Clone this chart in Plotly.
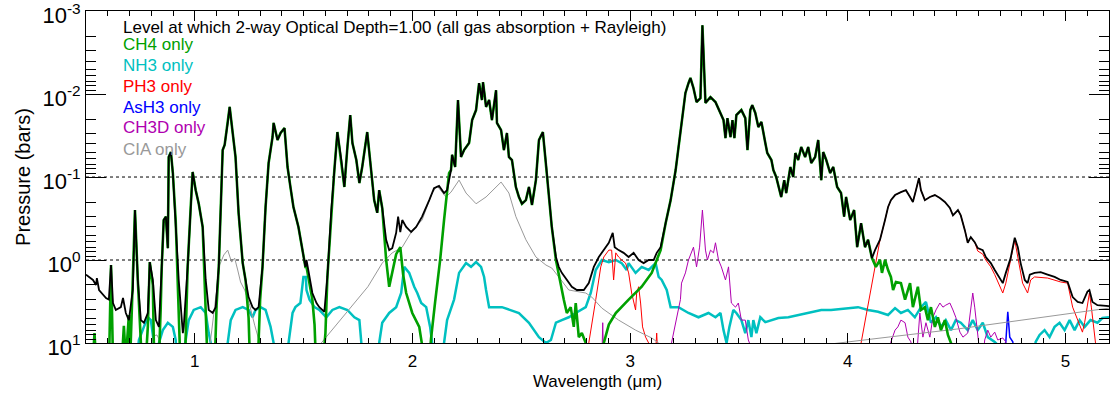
import plotly.graph_objects as go

# ---------------- data (wavelength in micron, pressure in bars) ----------------
wl_min, wl_max = 0.5, 5.2

total_wl = [0.500,0.532,0.546,0.550,0.560,0.592,0.605,0.615,0.624,0.637,0.660,0.670,0.683,0.697,0.715,0.725,0.738,0.752,0.766,0.784,
0.793,0.807,0.821,0.835,0.848,0.857,0.867,0.876,0.880,0.890,0.899,0.912,0.926,0.945,0.949,0.967,0.981,0.990,1.004,1.018,
1.036,1.050,1.064,1.082,1.096,1.110,1.128,1.137,1.151,1.160,1.174,1.187,1.201,1.220,1.233,1.247,1.265,1.279,1.293,1.311,
1.325,1.339,1.357,1.362,1.380,1.394,1.412,1.426,1.440,1.453,1.476,1.495,1.508,
1.513,1.527,1.540,1.559,1.572,1.595,1.609,1.627,1.641,1.655,1.673,1.687,1.701,1.714,1.724,1.742,1.756,1.769,1.792,1.811,
1.824,1.838,1.847,1.861,1.879,1.893,1.907,1.925,1.934,1.944,1.953,1.971,1.994,2.017,2.044,2.077,2.099,2.122,2.145,2.159,
2.177,2.182,2.196,2.209,2.223,2.237,2.260,2.274,2.292,2.306,2.319,2.324,2.338,
2.352,2.365,2.384,2.388,2.407,2.420,2.434,2.443,2.457,2.475,2.489,2.503,2.521,2.535,2.549,2.567,2.581,2.599,2.613,2.627,
2.640,2.659,2.672,2.686,2.709,2.732,2.755,2.787,2.810,2.833,2.856,2.879,2.902,2.920,2.929,2.947,2.970,2.993,3.016,3.039,
3.062,3.085,3.108,3.122,3.140,3.163,3.186,3.209,3.222,3.236,3.254,3.268,
3.277,3.291,3.305,3.323,3.332,3.346,3.369,3.392,3.415,3.429,3.438,3.447,3.461,3.470,3.479,3.488,3.511,3.529,3.539,3.552,
3.561,3.575,3.589,3.603,3.621,3.630,3.649,3.658,3.671,3.685,3.694,3.708,3.717,3.736,3.749,3.759,3.772,3.786,3.804,3.818,
3.832,3.850,3.864,3.878,3.887,3.901,3.919,3.933,3.951,3.969,3.983,3.992,4.011,4.029,4.043,4.061,4.079,4.093,4.111,4.125,
4.148,4.171,4.185,4.198,
4.217,4.244,4.267,4.286,4.299,4.313,4.327,4.336,4.354,4.377,4.400,4.423,4.446,4.469,4.483,4.506,4.519,4.538,4.551,4.565,
4.583,4.597,4.620,4.634,4.657,4.675,4.698,4.712,4.726,4.748,4.767,4.781,4.794,4.813,4.826,4.836,4.858,4.886,4.918,4.950,
4.978,5.010,5.033,5.056,5.078,5.101,5.110,5.124,5.147,5.200]
total_p = [1.5,1.74,2.0,1.65,2.3,2.87,3.0,1.15,3.3,4.0,3.7,2.87,4.35,5.3,2.3,0.25,1.74,5.3,5.7,4.35,
1.06,1.74,5.3,6.4,1.21,0.33,0.30,0.72,0.0574,0.050,0.0895,0.33,1.74,7.6,6.4,1.21,0.23,0.087,0.144,0.21,
0.40,1.74,4.0,4.35,3.7,1.21,0.0473,0.041,0.0223,0.0143,0.0295,0.0574,0.27,1.09,1.74,2.8,3.7,4.0,3.7,1.21,
0.23,0.0678,0.033,0.0223,0.0358,0.0295,0.0257,0.0758,0.136,0.23,0.40,0.82,1.21,
1.0,1.6,2.5,3.3,3.7,4.2,1.6,0.25,0.0824,0.0287,0.0624,0.132,0.0435,0.0179,0.0389,0.0624,0.118,0.0758,0.0287,0.0824,
0.19,0.27,0.144,0.236,0.57,0.76,0.72,0.47,0.30,0.46,0.33,0.40,0.46,0.40,0.30,0.19,0.136,0.128,0.156,0.144,
0.0824,0.054,0.0758,0.0118,0.0574,0.0473,0.0389,0.0206,0.0156,0.0074,0.0118,0.0072,0.0143,
0.0118,0.0206,0.0090,0.0223,0.0272,0.0473,0.0295,0.0574,0.0624,0.132,0.174,0.21,0.19,0.132,0.217,0.109,0.0358,0.0287,0.0678,0.156,
0.40,0.92,1.21,1.43,1.74,2.1,2.3,2.3,1.9,1.21,0.92,0.76,0.62,0.47,0.70,0.76,0.82,0.92,0.82,1.0,
1.09,1.0,1.0,0.82,0.70,0.36,0.19,0.0824,0.0435,0.0223,0.0097,0.0074,
0.0064,0.0085,0.0125,0.0112,0.00148,0.0128,0.0109,0.0125,0.0169,0.0206,0.0339,0.0195,0.033,0.0206,0.0339,0.0179,0.0156,0.0195,0.0473,0.0156,
0.0136,0.0169,0.025,0.0217,0.0389,0.0514,0.0624,0.0824,0.1,0.144,0.174,0.109,0.156,0.0758,0.1,0.0514,0.0624,0.0435,0.0574,0.0435,
0.0678,0.0574,0.0358,0.109,0.050,0.0624,0.0895,0.0758,0.132,0.156,0.30,0.174,0.33,0.25,0.70,0.36,0.70,0.57,0.95,0.76,
0.57,0.33,0.23,0.19,
0.165,0.152,0.144,0.174,0.20,0.144,0.103,0.144,0.19,0.174,0.165,0.179,0.20,0.236,0.29,0.25,0.29,0.44,0.62,0.53,
0.61,0.72,0.76,0.92,1.09,1.32,1.65,1.9,1.43,0.95,0.54,0.70,1.09,1.74,1.9,1.5,1.43,1.40,1.5,1.6,
1.74,1.84,2.8,3.2,3.3,2.4,2.3,3.2,3.5,3.6]

# CH4: follows the total except in these wavelength ranges, where its own values are read
ch4_own_ranges = [(0.50,0.72),(0.745,0.79),(0.80,0.845),(0.92,0.962),(1.045,1.105),(1.24,1.305),
                  (1.51,1.605),(1.865,2.17),(2.655,3.145),(4.105,5.21)]
ch4_own_wl = [0.500,0.532,0.539,0.546,0.606,0.615,0.624,0.665,0.674,0.683,0.697,0.703,0.712,
              0.750,0.756,0.775,0.784,
              0.807,0.813,0.835,0.843,
              0.926,0.933,0.955,
              1.050,1.058,1.092,1.100,
              1.247,1.253,1.290,1.300,
              1.513,1.527,1.540,1.550,1.556,1.590,1.600,
              1.870,1.879,1.893,1.907,1.925,1.944,1.957,1.971,1.999,2.031,2.044,2.055,2.078,2.085,2.104,2.127,2.145,2.159,2.168,
              2.659,2.681,2.695,2.709,2.727,2.741,2.750,2.764,2.778,2.796,2.810,2.872,2.879,2.902,2.934,2.993,3.053,3.099,3.122,3.140,
              4.111,4.129,4.148,4.157,4.171,4.185,4.198,4.208,4.221,4.244,4.263,4.286,4.299,4.322,4.336,4.354,4.368,4.382,4.400,4.414,
              4.428,4.446,4.460,4.474,4.500,5.200]
ch4_own_p = [16,16,7.6,16,16,1.15,16,16,6.2,16,4.6,16,3.0,
             9.0,16,16,6.4,
             2.0,16,16,4.0,
             3.0,16,16,
             3.0,16,16,3.5,
             5.0,16,16,3.0,
             1.21,2.0,3.0,6.0,16,16,7.6,
             0.50,1.0,2.1,1.43,0.85,0.70,1.5,2.5,4.35,6.4,10,16,16,9.0,3.2,1.0,0.33,0.14,0.09,
             1.0,2.1,3.0,4.35,3.7,6.4,3.3,8.5,7.6,10,16,16,10,6.0,4.35,3.0,2.1,1.43,1.0,0.76,
             0.95,1.21,1.0,1.43,1.0,1.32,1.6,2.3,1.84,1.9,3.0,1.9,3.7,2.1,4.0,3.7,5.3,3.7,6.4,4.9,
             7.0,5.3,8.0,10,16,16]

nh3_wl = [0.735,0.743,0.766,0.784,0.798,0.812,0.815,0.826,0.835,0.853,0.876,0.899,0.912,0.918,0.940,0.958,0.972,0.995,1.027,1.050,
          1.064,1.073,1.080,1.140,1.151,1.165,1.187,1.220,1.247,1.265,1.279,1.302,1.325,1.348,1.362,1.370,1.420,1.430,1.449,1.462,
          1.485,1.499,1.510,1.513,1.527,1.550,1.572,1.604,1.632,1.664,1.701,1.733,1.756,1.765,1.770,1.840,1.847,1.861,1.893,1.925,
          1.948,1.962,1.985,2.008,2.022,2.040,2.063,2.081,2.090,2.100,2.140,2.145,2.159,2.191,2.214,2.246,2.269,2.292,2.315,2.329,
          2.338,2.352,2.397,2.411,2.489,2.535,2.581,2.613,2.636,2.659,2.686,2.718,2.750,2.796,2.819,2.842,2.870,2.902,2.934,2.961,
          2.984,2.993,3.025,3.053,3.085,3.117,3.131,3.145,3.168,3.186,3.222,3.268,3.314,3.360,3.392,3.415,3.429,3.443,3.456,3.474,
          3.488,3.511,3.529,3.543,3.557,3.566,3.580,3.598,3.621,3.649,3.681,3.727,3.772,3.818,3.878,3.923,3.988,4.047,4.093,4.139,
          4.185,4.217,4.244,4.276,4.308,4.336,4.359,4.382,4.405,4.428,4.450,4.474,4.496,4.519,4.551,4.574,4.597,4.620,4.643,4.675,
          4.689,4.700,4.855,4.863,4.881,4.904,4.927,4.950,4.973,4.996,5.019,5.042,5.065,5.088,5.115,5.147,5.170,5.200]
nh3_p = [16,9.2,6.4,4.9,5.3,10,16,16,10,7.0,5.7,6.4,9.2,16,16,9.2,5.3,4.0,3.7,4.35,
         7.6,10,16,16,10,5.3,4.0,3.7,4.0,4.9,4.0,3.7,4.0,6.4,10,16,16,10,4.35,3.7,
         3.3,1.6,1.6,2.3,3.0,3.7,4.0,4.9,4.0,3.7,4.0,4.9,5.3,10,16,16,10,5.7,4.35,3.7,
         2.5,1.21,1.43,2.1,2.5,3.3,3.7,6.4,10,16,16,10,5.3,3.0,1.43,1.09,1.21,1.06,1.21,1.6,
         2.3,3.7,3.7,3.7,4.35,5.7,8.5,10,9.2,5.7,5.3,4.9,4.35,3.7,2.5,1.32,1.0,1.06,1.0,1.09,
         1.32,1.09,1.43,1.21,1.32,1.09,1.6,1.74,2.3,3.7,3.7,4.35,4.9,4.35,4.9,4.35,7.0,10,6.4,4.0,
         4.35,5.3,7.6,5.3,8.5,5.3,7.6,4.9,5.6,5.3,5.0,4.9,4.6,4.35,4.0,4.0,3.8,3.7,4.0,4.2,
         4.6,3.8,4.35,4.0,4.9,3.7,3.2,5.7,4.9,6.4,5.3,7.0,5.3,5.7,7.0,5.3,7.0,5.7,8.5,9.7,
         10.6,16,16,9.7,8.0,7.0,8.5,6.4,5.7,7.0,5.3,7.0,5.3,6.4,5.3,5.7,5.0,4.9]

ph3_own_wl = [2.800,2.810,2.842,2.865,2.879,2.902,2.915,2.924,2.934,2.947,2.961,2.979,2.993,3.007,3.025,3.030,3.039,3.048,3.057,3.071,
              3.085,3.100,3.115,3.122,3.128,4.050,4.061,4.100,4.139,
              4.597,4.620,4.634,4.657,4.675,4.698,4.712,4.726,4.748,4.767,4.781,4.803,4.826,4.840,4.858,4.918,4.978,5.010,5.033,5.056,
              5.078,5.088,5.101,5.110,5.119,5.133,5.138,5.150,5.200]
ph3_own_p = [16,10,3.0,1.21,0.92,0.76,0.76,1.74,0.82,0.92,1.0,1.09,1.43,2.5,4.0,2.5,2.1,3.3,6.4,8.5,
             10,16,16,7.6,16,16,10,2.8,0.76,
             0.78,0.85,1.0,1.21,1.5,2.1,2.5,1.9,0.98,0.57,0.92,1.9,2.5,1.74,1.6,1.65,1.84,1.9,3.7,5.3,
             7.4,5.7,3.3,2.5,3.7,8.5,10,16,16]
ph3_follows_total = (4.145, 4.59)   # PH3 coincides with the total here

ash3_wl = [4.700,4.726,4.735,4.744,4.758,4.770]
ash3_p = [16,9.7,4.2,8.5,9.7,16]

ch3d_wl = [2.870,2.874,2.878,3.180,3.190,3.231,3.236,3.254,3.268,3.291,3.305,3.319,3.332,3.346,3.355,3.369,3.383,3.392,3.406,3.419,
           3.438,3.452,3.465,3.484,3.497,3.511,3.529,3.543,3.552,3.560,4.190,4.198,4.217,4.230,4.244,4.263,4.276,4.290,4.300,4.315,
           4.331,4.345,4.359,4.377,4.391,4.405,4.423,4.437,4.450,4.469,4.483,4.496,4.515,4.529,4.551,4.565,4.574,4.583,4.597,4.610,
           4.620,4.629,4.643,4.657,4.675,4.689,4.712,4.726,4.735]
ch3d_p = [16,5.7,16,16,10,3.0,1.9,1.43,1.0,0.70,1.21,0.70,0.25,0.76,1.0,0.76,0.82,0.62,1.0,1.21,
          1.74,1.21,3.3,3.7,3.3,5.3,5.3,9.2,10.6,16,16,9.7,7.0,6.4,5.3,5.7,8.5,9.7,16,16,
          4.35,8.5,5.7,8.5,4.9,4.0,3.3,3.7,3.5,3.3,4.0,4.9,7.4,8.5,7.6,4.0,2.5,3.7,9.2,16,
          16,9.2,7.0,8.5,7.4,9.2,8.7,9.7,16]

cia_wl = [0.500,0.795,0.803,0.812,0.826,0.840,0.850,1.060,1.078,1.096,1.114,1.133,1.151,1.169,1.183,1.197,1.210,1.229,1.252,1.275,
          1.298,1.310,1.570,1.581,1.650,1.720,1.795,1.861,1.907,1.953,1.999,2.044,2.090,2.113,2.154,2.177,2.214,2.246,2.292,2.338,
          2.407,2.443,2.475,2.521,2.567,2.613,2.640,2.672,2.718,2.796,2.824,2.870,2.947,3.025,3.099,3.131,3.200,3.900,3.919,4.185,
          4.500,4.800,5.200]
cia_p = [16,16,9.5,8.2,8.0,9.5,16,16,7.0,3.0,1.15,0.87,0.76,1.06,0.95,1.32,1.84,2.3,3.5,6.1,
         10,16,16,10,6.0,3.6,2.1,1.09,0.82,0.70,0.44,0.33,0.156,0.128,0.174,0.152,0.109,0.156,0.21,0.174,
         0.115,0.156,0.30,0.57,0.92,1.15,1.25,1.6,2.3,2.5,2.8,3.8,5.3,7.0,8.7,10,16,16,10.3,8.5,
         6.8,5.3,3.8]

ref_levels = [0.1, 1.0]

legend_title = "Level at which 2-way Optical Depth=1.00 (all gas absorption + Rayleigh)"
legend_labels = ["CH4 only", "NH3 only", "PH3 only", "AsH3 only", "CH3D only", "CIA only"]

# ---------------- styles ----------------
C_CH4, C_NH3, C_PH3, C_ASH3, C_CH3D, C_CIA = "#00a000", "#00c0c0", "#ff0000", "#0000ff", "#b000b0", "#999999"
legend_colors = [C_CH4, C_NH3, C_PH3, C_ASH3, C_CH3D, C_CIA]
FONT = "Liberation Sans, Arial, Helvetica, sans-serif"


def in_any(w, ranges):
    return any(lo <= w < hi for lo, hi in ranges)


# CH4 series: total outside its own ranges + its own points
pts = [(w, p) for w, p in zip(total_wl, total_p) if not in_any(w, ch4_own_ranges)]
pts += list(zip(ch4_own_wl, ch4_own_p))
pts.sort()
ch4_wl = [w for w, _ in pts]
ch4_p = [p for _, p in pts]

# PH3 series: own points + total where they coincide
pts = list(zip(ph3_own_wl, ph3_own_p))
pts += [(w, p) for w, p in zip(total_wl, total_p) if ph3_follows_total[0] <= w < ph3_follows_total[1]]
pts.sort()
ph3_wl = [w for w, _ in pts]
ph3_p = [p for _, p in pts]

fig = go.Figure()


def add(x, y, color, width):
    fig.add_trace(go.Scatter(x=x, y=y, mode="lines", line=dict(color=color, width=width),
                             showlegend=False, hoverinfo="skip"))


# dotted reference levels
for lev in ref_levels:
    fig.add_trace(go.Scatter(x=[wl_min, wl_max], y=[lev, lev], mode="lines",
                             line=dict(color="black", width=1, dash="dot"),
                             showlegend=False, hoverinfo="skip"))

add(nh3_wl, nh3_p, C_NH3, 2.5)
add(ph3_wl, ph3_p, C_PH3, 1)
add(ash3_wl, ash3_p, C_ASH3, 1.5)
add(ch3d_wl, ch3d_p, C_CH3D, 1)
add(cia_wl, cia_p, C_CIA, 1)
add(ch4_wl, ch4_p, C_CH4, 2.6)
add(total_wl, total_p, "black", 1.8)

# legend-like text
annotations = []
y0_px, step_px, plot_h = 16, 21, 332
annotations.append(dict(text=legend_title, x=0.034, y=1 - (y0_px) / plot_h, xref="paper", yref="paper",
                        xanchor="left", yanchor="middle", showarrow=False,
                        font=dict(family=FONT, size=17, color="black")))
for i, (lab, col) in enumerate(zip(legend_labels, legend_colors)):
    annotations.append(dict(text=lab, x=0.034, y=1 - (y0_px + step_px * (i + 1) - 4) / plot_h,
                            xref="paper", yref="paper", xanchor="left", yanchor="middle",
                            showarrow=False, font=dict(family=FONT, size=17, color=col)))

ytv = [1e-3, 1e-2, 1e-1, 1, 10]
ytt = ["10<sup>-3</sup>", "10<sup>-2</sup>", "10<sup>-1</sup>", "10<sup>0</sup>", "10<sup>1</sup>"]
yminor = [k * 10.0 ** d for d in range(-3, 1) for k in range(2, 10)]

fig.update_layout(
    width=1111, height=394,
    margin=dict(l=86, r=2, t=11, b=51),
    paper_bgcolor="white", plot_bgcolor="white",
    font=dict(family=FONT, color="black"),
    annotations=annotations,
    xaxis=dict(range=[wl_min, wl_max], tickmode="linear", tick0=1, dtick=1, automargin=False,
               ticks="inside", ticklen=10, tickwidth=1, tickcolor="black",
               minor=dict(ticks="inside", ticklen=5, dtick=0.1, tick0=0, tickcolor="black", showgrid=False),
               showline=True, linecolor="black", linewidth=1, mirror="ticks",
               showgrid=False, zeroline=False,
               tickfont=dict(family=FONT, size=17),
               ticklabelstandoff=3,
               title=dict(text="Wavelength (μm)", standoff=4,
                          font=dict(family=FONT, size=17))),
    yaxis=dict(type="log", range=[1.0002, -3.0006], tickmode="array", tickvals=ytv, ticktext=ytt,
               automargin=False,
               ticks="inside", ticklen=20, tickwidth=1, tickcolor="black",
               ticklabeloverflow="allow", ticklabelshift=-4,
               minor=dict(ticks="inside", ticklen=10, tickmode="array", tickvals=yminor,
                          tickcolor="black", showgrid=False),
               showline=True, linecolor="black", linewidth=1, mirror="ticks",
               showgrid=False, zeroline=False,
               tickfont=dict(family=FONT, size=22),
               title=dict(text="Pressure (bars)", standoff=6, font=dict(family=FONT, size=20))),
)

fig.write_html("out.html")
